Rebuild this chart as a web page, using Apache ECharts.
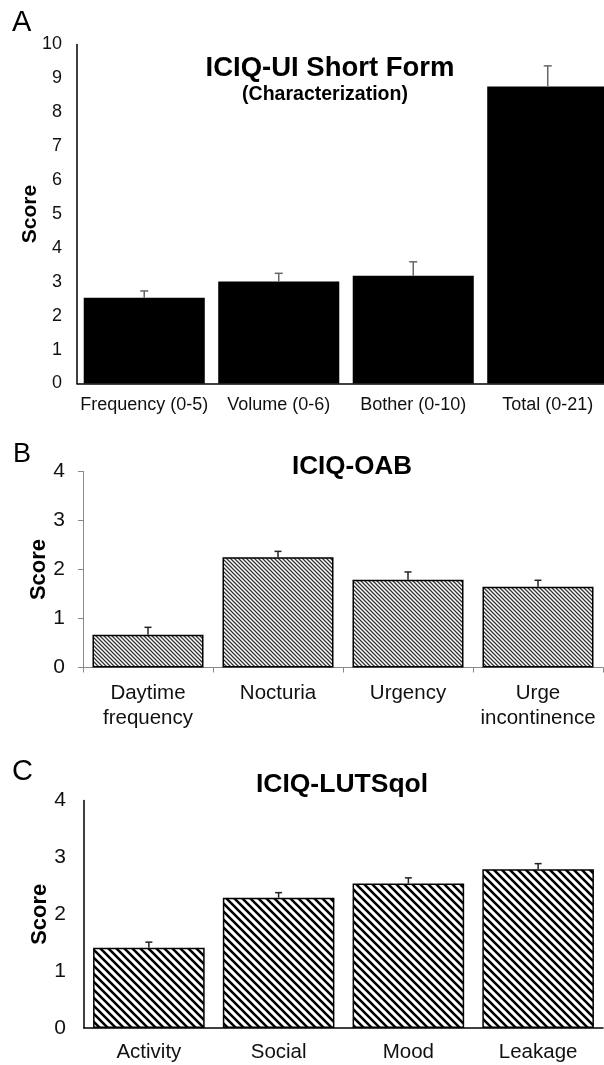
<!DOCTYPE html>
<html><head><meta charset="utf-8">
<script src="https://cdn.jsdelivr.net/npm/echarts@6/dist/echarts.min.js"></script>
<style>html,body{margin:0;padding:0;background:#fff}#c{width:604px;height:1065px}</style>
</head><body><div id="c"></div>
<script>
// ---- data ----
const catsA = ['Frequency (0-5)', 'Volume (0-6)', 'Bother (0-10)', 'Total (0-21)'];
const meanA = [2.53, 3.01, 3.18, 8.76];
const errA  = [0.20, 0.24, 0.41, 0.61];

const catsB = ['Daytime\nfrequency', 'Nocturia', 'Urgency', 'Urge\nincontinence'];
const meanB = [0.67, 2.25, 1.79, 1.65];
const errB  = [0.15, 0.12, 0.16, 0.13];

const catsC = ['Activity', 'Social', 'Mood', 'Leakage'];
const meanC = [1.41, 2.29, 2.54, 2.79];
const errC  = [0.10, 0.09, 0.10, 0.10];

const titleA = 'ICIQ-UI Short Form';
const subTitleA = '(Characterization)';
const titleB = 'ICIQ-OAB';
const titleC = 'ICIQ-LUTSqol';
const axisName = 'Score';

// ---- helpers ----
const FONT = '"Liberation Sans", Arial, sans-serif';
function hatch(size, lw, color) {
  const c = document.createElement('canvas');
  c.width = size; c.height = size;
  const g = c.getContext('2d');
  g.fillStyle = '#fff'; g.fillRect(0, 0, size, size);
  g.strokeStyle = color; g.lineWidth = lw;
  g.beginPath();
  for (const o of [-size, 0, size]) { g.moveTo(o - 1, -1); g.lineTo(o + size + 1, size + 1); }
  g.stroke();
  return c;
}
function errRender(color, capW, lw) {
  return function (params, api) {
    const x = api.value(0);
    const p0 = api.coord([x, api.value(1)]);
    const p1 = api.coord([x, api.value(2)]);
    return {
      type: 'group', children: [
        { type: 'line', shape: { x1: p0[0], y1: p0[1], x2: p1[0], y2: p1[1] }, style: { stroke: color, lineWidth: lw } },
        { type: 'line', shape: { x1: p1[0] - capW / 2, y1: p1[1], x2: p1[0] + capW / 2, y2: p1[1] }, style: { stroke: color, lineWidth: lw } }
      ]
    };
  };
}
function errData(m, e) { return m.map((v, i) => [i, v, v + e[i]]); }

const chart = echarts.init(document.getElementById('c'), null, { renderer: 'canvas' });

const nameStyle = { fontFamily: FONT, fontWeight: 'bold', color: '#000' };

chart.setOption({
  backgroundColor: '#fff',
  animation: false,
  textStyle: { fontFamily: FONT },
  grid: [
    { left: 77, top: 44.5, width: 538, height: 339, outerBoundsMode: 'none', containLabel: false },
    { left: 83, top: 471.5, width: 520, height: 196, outerBoundsMode: 'none', containLabel: false },
    { left: 84, top: 800.5, width: 519, height: 227.5, outerBoundsMode: 'none', containLabel: false }
  ],
  xAxis: [
    { gridIndex: 0, type: 'category', data: catsA,
      axisLine: { lineStyle: { color: '#000', width: 1.5 } }, axisTick: { show: false },
      axisLabel: { fontSize: 18, color: '#111', margin: 13, interval: 0 } },
    { gridIndex: 1, type: 'category', data: catsB,
      axisLine: { lineStyle: { color: '#888', width: 1 } }, axisTick: { show: true, length: 5, lineStyle: { color: '#888' } },
      axisLabel: { fontSize: 20.5, color: '#111', margin: 13, lineHeight: 25, interval: 0 } },
    { gridIndex: 2, type: 'category', data: catsC,
      axisLine: { lineStyle: { color: '#000', width: 1.5 } }, axisTick: { show: false },
      axisLabel: { fontSize: 20.5, color: '#111', margin: 14, interval: 0 } }
  ],
  yAxis: [
    { gridIndex: 0, type: 'value', min: 0, max: 10, interval: 1,
      name: axisName, nameLocation: 'middle', nameGap: 36, nameMoveOverlap: false, nameTextStyle: Object.assign({ fontSize: 21 }, nameStyle),
      axisLine: { show: true, lineStyle: { color: '#000', width: 1.5 } }, axisTick: { show: false },
      splitLine: { show: false }, axisLabel: { fontSize: 18, color: '#111', margin: 15 } },
    { gridIndex: 1, type: 'value', min: 0, max: 4, interval: 1,
      name: axisName, nameLocation: 'middle', nameGap: 33, nameMoveOverlap: false, nameTextStyle: Object.assign({ fontSize: 22 }, nameStyle),
      axisLine: { show: true, lineStyle: { color: '#888', width: 1 } }, axisTick: { show: true, length: 5, lineStyle: { color: '#888' } },
      splitLine: { show: false }, axisLabel: { fontSize: 21, color: '#111', margin: 18 } },
    { gridIndex: 2, type: 'value', min: 0, max: 4, interval: 1,
      name: axisName, nameLocation: 'middle', nameGap: 33, nameMoveOverlap: false, nameTextStyle: Object.assign({ fontSize: 22 }, nameStyle),
      axisLine: { show: true, lineStyle: { color: '#000', width: 1.5 } }, axisTick: { show: false },
      splitLine: { show: false }, axisLabel: { fontSize: 21, color: '#111', margin: 18 } }
  ],
  series: [
    { type: 'bar', xAxisIndex: 0, yAxisIndex: 0, data: meanA, barCategoryGap: '10%',
      itemStyle: { color: '#000' } },
    { type: 'custom', xAxisIndex: 0, yAxisIndex: 0, data: errData(meanA, errA),
      encode: { x: 0, y: [1, 2] }, renderItem: errRender('#666', 8, 1.5), z: 3 },
    { type: 'bar', xAxisIndex: 1, yAxisIndex: 1, data: meanB, barCategoryGap: '14.6%',
      itemStyle: { color: { image: hatch(4, 1.3, '#333'), repeat: 'repeat' }, borderColor: '#000', borderWidth: 1.5 } },
    { type: 'custom', xAxisIndex: 1, yAxisIndex: 1, data: errData(meanB, errB),
      encode: { x: 0, y: [1, 2] }, renderItem: errRender('#222', 7, 1.5), z: 3 },
    { type: 'bar', xAxisIndex: 2, yAxisIndex: 2, data: meanC, barCategoryGap: '14%',
      itemStyle: { color: { image: hatch(8, 2.6, '#000'), repeat: 'repeat' }, borderColor: '#000', borderWidth: 1.5 } },
    { type: 'custom', xAxisIndex: 2, yAxisIndex: 2, data: errData(meanC, errC),
      encode: { x: 0, y: [1, 2] }, renderItem: errRender('#222', 7, 1.5), z: 3 }
  ],
  graphic: [
    { type: 'text', x: 12, y: 23, style: { text: 'A', fontSize: 29, fontFamily: FONT, fill: '#000', textVerticalAlign: 'middle' } },
    { type: 'text', x: 13, y: 455, style: { text: 'B', fontSize: 27, fontFamily: FONT, fill: '#000', textVerticalAlign: 'middle' } },
    { type: 'text', x: 12, y: 772, style: { text: 'C', fontSize: 29, fontFamily: FONT, fill: '#000', textVerticalAlign: 'middle' } },
    { type: 'text', x: 330, y: 68, style: { text: titleA, fontSize: 27.5, fontWeight: 'bold', fontFamily: FONT, fill: '#000', textAlign: 'center', textVerticalAlign: 'middle' } },
    { type: 'text', x: 325, y: 95, style: { text: subTitleA, fontSize: 19.5, fontWeight: 'bold', fontFamily: FONT, fill: '#000', textAlign: 'center', textVerticalAlign: 'middle' } },
    { type: 'text', x: 352, y: 467, style: { text: titleB, fontSize: 26, fontWeight: 'bold', fontFamily: FONT, fill: '#000', textAlign: 'center', textVerticalAlign: 'middle' } },
    { type: 'text', x: 342, y: 785, style: { text: titleC, fontSize: 26.5, fontWeight: 'bold', fontFamily: FONT, fill: '#000', textAlign: 'center', textVerticalAlign: 'middle' } }
  ]
});
</script>
</body></html>
